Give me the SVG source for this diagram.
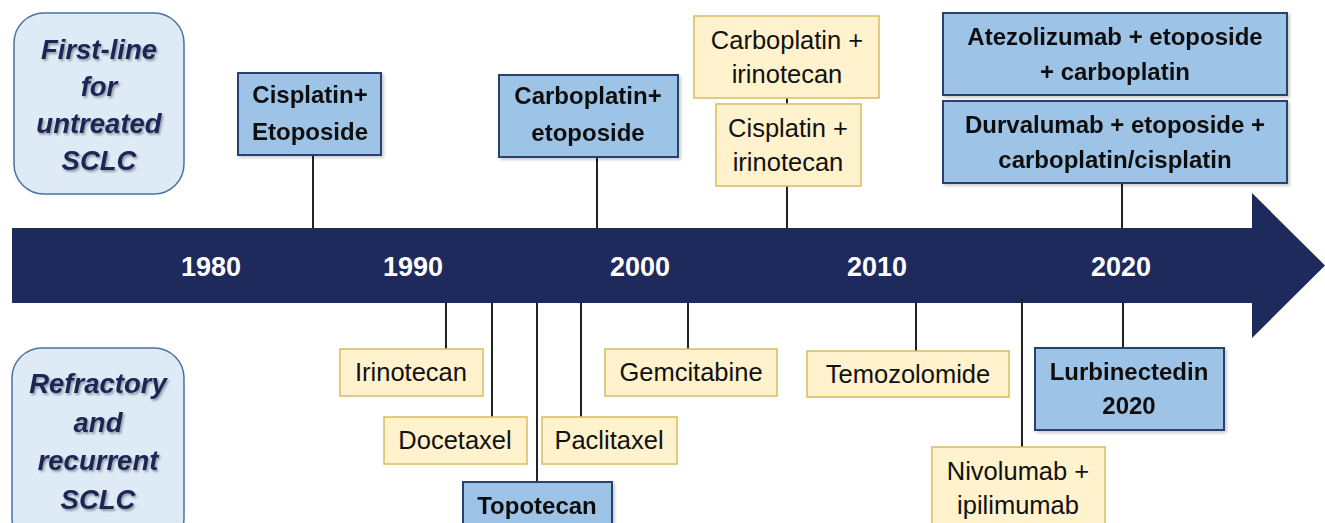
<svg xmlns="http://www.w3.org/2000/svg" width="1325" height="523" viewBox="0 0 1325 523">
<defs>
<filter id="sh" x="-10%" y="-10%" width="130%" height="130%">
<feDropShadow dx="1.5" dy="2" stdDeviation="1.2" flood-color="#000" flood-opacity="0.35"/>
</filter>
<filter id="bsh" x="-5%" y="-5%" width="115%" height="120%">
<feDropShadow dx="2" dy="2" stdDeviation="1.5" flood-color="#000" flood-opacity="0.2"/>
</filter>
</defs>
<style>
.lbl{fill:#deebf7;stroke:#4e71a0;stroke-width:1.5}
.lt{font-family:"Liberation Sans",Arial,sans-serif;font-weight:bold;font-style:italic;font-size:27.5px;fill:#1c2555;text-anchor:middle}
.blue{fill:#9dc3e6;stroke:#2b3f6e;stroke-width:2}
.yel{fill:#fff2cc;stroke:#d9bc5c;stroke-width:1.5}
.bt{font-family:"Liberation Sans",Arial,sans-serif;font-weight:bold;font-size:24px;fill:#111;text-anchor:middle}
.rt{font-family:"Liberation Sans",Arial,sans-serif;font-size:25.5px;fill:#111;text-anchor:middle}
.yr{font-family:"Liberation Sans",Arial,sans-serif;font-weight:bold;font-size:27px;fill:#fff;text-anchor:middle}
.con line{stroke:#222;stroke-width:2}
</style>
<rect width="1325" height="523" fill="#fff"/>

<g id="timeline">
<polygon points="12,228 1252,228 1252,193 1325,265.5 1252,338 1252,303 12,303" fill="#1f2a5c"/>
<text class="yr" x="211" y="276">1980</text>
<text class="yr" x="413" y="276">1990</text>
<text class="yr" x="640" y="276">2000</text>
<text class="yr" x="877" y="276">2010</text>
<text class="yr" x="1121" y="276">2020</text>
</g>

<g id="connectors" class="con">
<line x1="313" y1="155" x2="313" y2="228"/>
<line x1="597" y1="157" x2="597" y2="228"/>
<line x1="787" y1="98" x2="787" y2="104"/>
<line x1="787" y1="186" x2="787" y2="228"/>
<line x1="1122" y1="183" x2="1122" y2="228"/>
<line x1="446" y1="303" x2="446" y2="349"/>
<line x1="492" y1="303" x2="492" y2="417"/>
<line x1="537" y1="303" x2="537" y2="482"/>
<line x1="581" y1="303" x2="581" y2="417"/>
<line x1="688" y1="303" x2="688" y2="349"/>
<line x1="916" y1="303" x2="916" y2="351"/>
<line x1="1022" y1="298" x2="1022" y2="447"/>
<line x1="1123" y1="303" x2="1123" y2="348"/>
</g>

<g id="label-first-line">
<rect class="lbl" x="14" y="13" width="170" height="181" rx="30"/>
<g filter="url(#sh)">
<text class="lt" x="99" y="59">First-line</text>
<text class="lt" x="99" y="96">for</text>
<text class="lt" x="99" y="133">untreated</text>
<text class="lt" x="99" y="170">SCLC</text>
</g>
</g>

<g id="label-refractory">
<rect class="lbl" x="12" y="348" width="172" height="200" rx="30"/>
<g filter="url(#sh)">
<text class="lt" x="98" y="393">Refractory</text>
<text class="lt" x="98" y="432">and</text>
<text class="lt" x="98" y="470">recurrent</text>
<text class="lt" x="98" y="509">SCLC</text>
</g>
</g>

<g id="cisplatin-etoposide" filter="url(#bsh)">
<rect class="blue" x="238" y="73" width="143" height="82"/>
<text class="bt" x="310" y="103">Cisplatin+</text>
<text class="bt" x="310" y="140">Etoposide</text>
</g>

<g id="carboplatin-etoposide" filter="url(#bsh)">
<rect class="blue" x="499" y="75" width="179" height="82"/>
<text class="bt" x="588" y="104">Carboplatin+</text>
<text class="bt" x="588" y="141">etoposide</text>
</g>

<g id="carboplatin-irinotecan">
<rect class="yel" x="694" y="16" width="185" height="82"/>
<text class="rt" x="787" y="49">Carboplatin +</text>
<text class="rt" x="787" y="83">irinotecan</text>
</g>

<g id="cisplatin-irinotecan">
<rect class="yel" x="716" y="104" width="145" height="82"/>
<text class="rt" x="788" y="137">Cisplatin +</text>
<text class="rt" x="788" y="171">irinotecan</text>
</g>

<g id="atezolizumab" filter="url(#bsh)">
<rect class="blue" x="943" y="13" width="344" height="82"/>
<text class="bt" x="1115" y="45">Atezolizumab + etoposide</text>
<text class="bt" x="1115" y="80">+ carboplatin</text>
</g>

<g id="durvalumab" filter="url(#bsh)">
<rect class="blue" x="943" y="101" width="344" height="82"/>
<text class="bt" x="1115" y="133">Durvalumab + etoposide +</text>
<text class="bt" x="1115" y="168">carboplatin/cisplatin</text>
</g>

<g id="irinotecan">
<rect class="yel" x="340" y="349" width="143" height="47"/>
<text class="rt" x="411" y="381">Irinotecan</text>
</g>

<g id="docetaxel">
<rect class="yel" x="384" y="417" width="143" height="47"/>
<text class="rt" x="455" y="449">Docetaxel</text>
</g>

<g id="topotecan" filter="url(#bsh)">
<rect class="blue" x="463" y="482" width="149" height="60"/>
<text class="bt" x="537" y="514">Topotecan</text>
</g>

<g id="paclitaxel">
<rect class="yel" x="542" y="417" width="135" height="47"/>
<text class="rt" x="609" y="449">Paclitaxel</text>
</g>

<g id="gemcitabine">
<rect class="yel" x="605" y="349" width="172" height="47"/>
<text class="rt" x="691" y="381">Gemcitabine</text>
</g>

<g id="temozolomide">
<rect class="yel" x="807" y="351" width="202" height="46"/>
<text class="rt" x="908" y="383">Temozolomide</text>
</g>

<g id="nivolumab">
<rect class="yel" x="932" y="447" width="173" height="90"/>
<text class="rt" x="1018" y="480">Nivolumab +</text>
<text class="rt" x="1018" y="514">ipilimumab</text>
</g>

<g id="lurbinectedin" filter="url(#bsh)">
<rect class="blue" x="1035" y="348" width="189" height="82"/>
<text class="bt" x="1129" y="380">Lurbinectedin</text>
<text class="bt" x="1129" y="414">2020</text>
</g>
</svg>
